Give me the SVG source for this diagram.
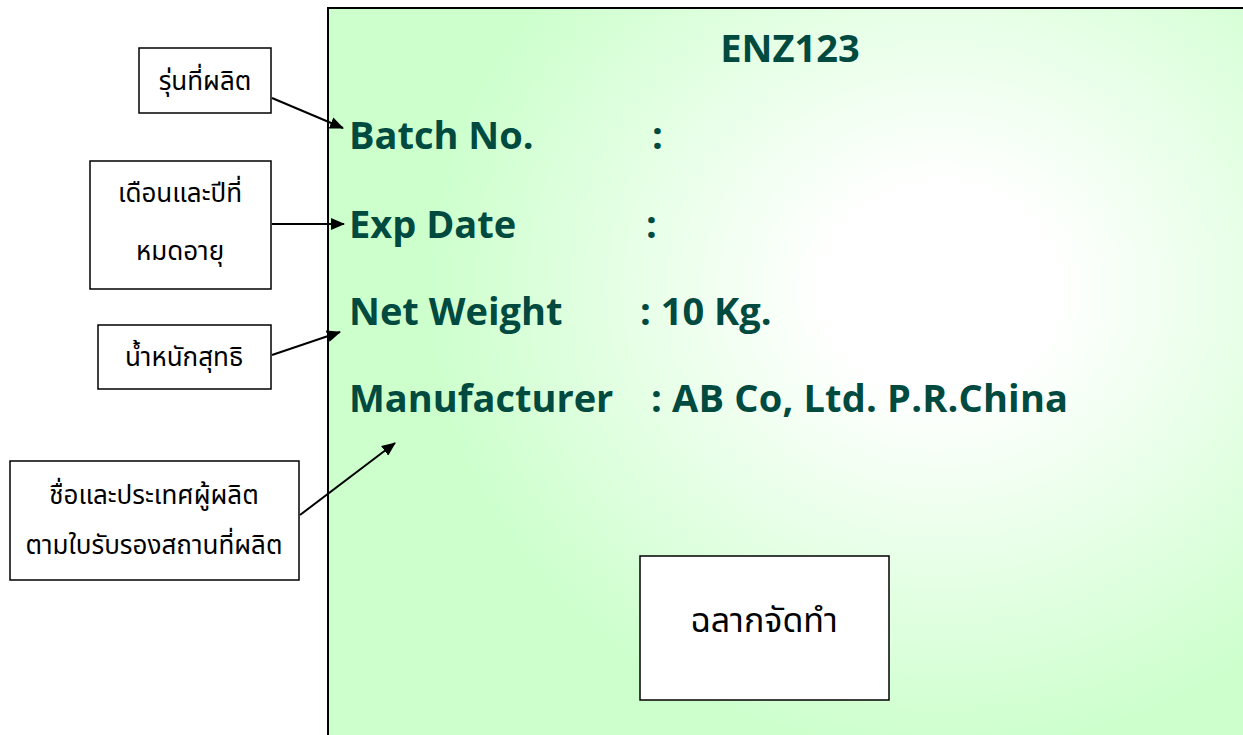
<svg xmlns="http://www.w3.org/2000/svg" width="1243" height="735" viewBox="0 0 1243 735">
<defs>
<radialGradient id="bg" gradientUnits="userSpaceOnUse" cx="940" cy="290" r="520" gradientTransform="translate(940 290) scale(1 0.9) translate(-940 -290)">
<stop offset="0" stop-color="#ffffff"/>
<stop offset="0.22" stop-color="#ffffff"/>
<stop offset="1" stop-color="#ccffcc"/>
</radialGradient>
<marker id="ah" markerWidth="14" markerHeight="12" refX="13" refY="6" orient="auto" markerUnits="userSpaceOnUse">
<path d="M0,0 L14,6 L0,12 Z" fill="#000"/>
</marker>
</defs>
<style>
.box{fill:#fff;stroke:#000;stroke-width:1.5}
.th{font-family:"Noto Sans Thai","Noto Sans","DejaVu Sans",sans-serif;font-size:26px;fill:#000;text-anchor:middle}
.lbl{font-family:"Open Sans","Noto Sans",sans-serif;font-weight:bold;font-size:38px;fill:#004a40}
.conn{stroke:#000;stroke-width:2;fill:none;marker-end:url(#ah)}
</style>
<rect width="1243" height="735" fill="#fff"/>
<g id="label-panel">
<rect x="328" y="8" width="930" height="740" fill="url(#bg)" stroke="#000" stroke-width="2"/>
<text class="lbl" x="790" y="62" text-anchor="middle">ENZ123</text>
<text class="lbl" x="349" y="149">Batch No.</text>
<text class="lbl" x="652" y="149">:</text>
<text class="lbl" x="349" y="238">Exp Date</text>
<text class="lbl" x="646" y="238">:</text>
<text class="lbl" x="349" y="325">Net Weight</text>
<text class="lbl" x="640" y="325">: 10 Kg.</text>
<text class="lbl" x="349" y="412">Manufacturer</text>
<text class="lbl" x="651" y="412" textLength="417">: AB Co, Ltd. P.R.China</text>
</g>
<g id="node-batch">
<rect class="box" x="139" y="48" width="132" height="65"/>
<text class="th" x="205" y="90">รุ่นที่ผลิต</text>
</g>
<g id="node-exp">
<rect class="box" x="90" y="161" width="181" height="128"/>
<text class="th" x="180" y="202">เดือนและปีที่</text>
<text class="th" x="180" y="260">หมดอายุ</text>
</g>
<g id="node-weight">
<rect class="box" x="98" y="325" width="173" height="64"/>
<text class="th" x="184" y="366">น้ำหนักสุทธิ</text>
</g>
<g id="node-manufacturer">
<rect class="box" x="10" y="461" width="289" height="119"/>
<text class="th" x="154" y="504">ชื่อและประเทศผู้ผลิต</text>
<text class="th" x="154" y="554">ตามใบรับรองสถานที่ผลิต</text>
</g>
<g id="node-made">
<rect class="box" x="640" y="556" width="249" height="144"/>
<text class="th" x="764" y="632" style="font-size:34px">ฉลากจัดทำ</text>
</g>
<g id="connectors">
<line class="conn" x1="272" y1="98" x2="343" y2="128"/>
<line class="conn" x1="272" y1="224" x2="344" y2="224"/>
<line class="conn" x1="272" y1="355" x2="340" y2="332"/>
<line class="conn" x1="300" y1="515" x2="395" y2="443"/>
</g>
</svg>
